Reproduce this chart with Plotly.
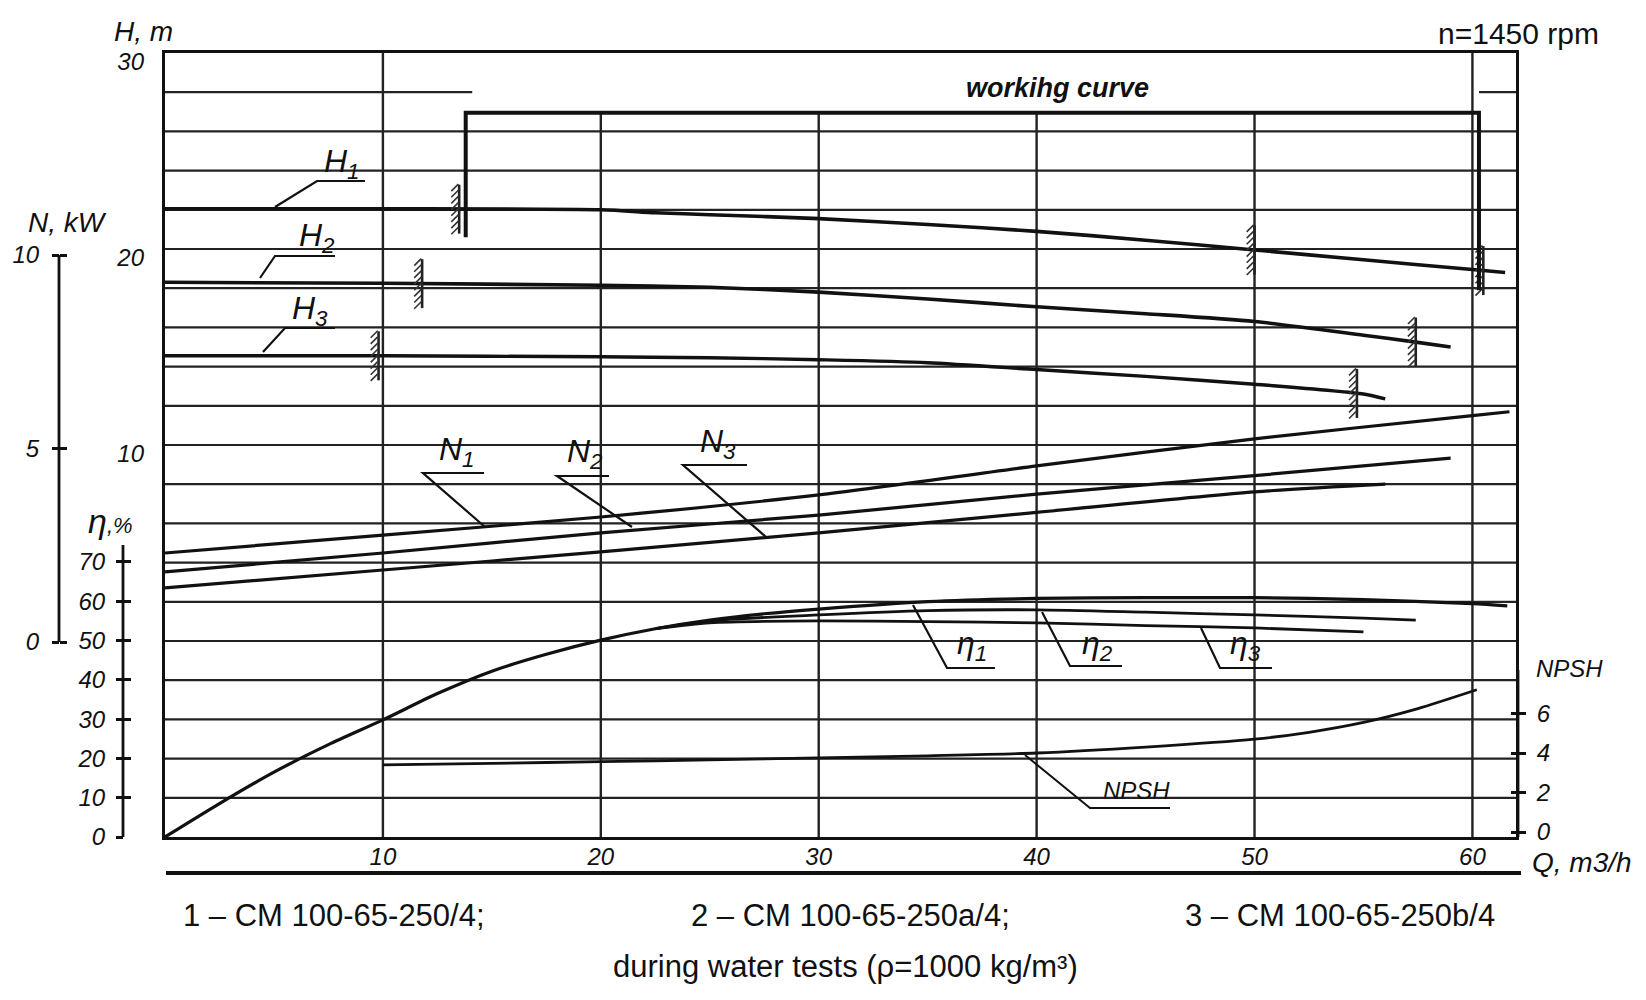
import numpy as np
import plotly.graph_objects as go

W, H = 1646, 1000

# head H(Q), m
q_h1 = [0, 10, 20, 22.5, 25, 30, 35, 40, 45, 50, 55, 60, 61.5]
h1 = [22.05, 22.05, 22.0, 21.85, 21.75, 21.55, 21.25, 20.9, 20.45, 19.95, 19.45, 18.95, 18.8]
q_h2 = [0, 10, 20, 25, 30, 35, 40, 45, 50, 55, 57.4, 59]
h2 = [18.3, 18.25, 18.15, 18.05, 17.8, 17.45, 17.05, 16.7, 16.3, 15.6, 15.25, 15.0]
q_h3 = [0, 10, 20, 25, 30, 35, 40, 45, 50, 55, 56]
h3 = [14.55, 14.55, 14.5, 14.45, 14.35, 14.2, 13.85, 13.5, 13.1, 12.6, 12.35]

# power N(Q), kW
q_n1 = [0, 10, 20, 30, 40, 50, 60, 61.7]
n1 = [2.3, 2.76, 3.23, 3.8, 4.55, 5.25, 5.85, 5.95]
q_n2 = [0, 10, 20, 30, 40, 50, 59]
n2 = [1.81, 2.3, 2.82, 3.28, 3.82, 4.3, 4.75]
q_n3 = [0, 10, 20, 30, 40, 50, 56]
n3 = [1.4, 1.86, 2.33, 2.82, 3.35, 3.88, 4.08]

# efficiency eta(Q), %
q_e1 = [0, 2.5, 5, 7.5, 10, 12.5, 15, 17.5, 20, 22.5, 25, 27.5, 30, 35, 40, 45, 50, 55, 60, 61.6]
e1 = [0, 8.5, 16.5, 23.5, 29.8, 36.5, 42.2, 46.5, 50.1, 53, 55.2, 56.8, 58, 59.9, 60.7, 60.9, 60.9, 60.4, 59.4, 58.8]
q_e2 = [22.5, 25, 30, 35, 40, 45, 50, 55, 57.4]
e2 = [53, 55, 56.5, 57.6, 57.8, 57.2, 56.5, 55.7, 55.2]
q_e3 = [22.5, 25, 30, 35, 40, 45, 50, 55]
e3 = [53, 54.5, 55, 54.8, 54.5, 53.8, 53.2, 52.2]

# NPSH(Q), m
q_npsh = [10, 15, 20, 25, 30, 35, 40, 45, 50, 52.5, 55, 57.5, 60.2]
npsh = [3.4, 3.48, 3.56, 3.65, 3.75, 3.86, 4.0, 4.3, 4.7, 5.05, 5.55, 6.25, 7.2]

# working range limits (hatched marks on the head curves)
limits_h1 = [13.5, 50.0, 60.5]
limits_h2 = [11.8, 57.4]
limits_h3 = [9.8, 54.7]

q_ticks = [10, 20, 30, 40, 50, 60]
h_ticks = [10, 20, 30]
n_ticks = [0, 5, 10]
eta_ticks = [0, 10, 20, 30, 40, 50, 60, 70]
npsh_ticks = [0, 2, 4, 6]

pumps = ['1 – CM 100-65-250/4;', '2 – CM 100-65-250a/4;', '3 – CM 100-65-250b/4']

INK = '#111111'
FONT = 'Liberation Sans, Arial, sans-serif'

# pixel geometry of the drawing (page has an 8px body margin)
OFF = 8
X0, X1 = 165, 1516          # Q = 0 .. 62
Y0, Y1 = 837, 53            # grid units 0 .. 20
N_AX, ETA_AX, NPSH_AX = 59, 123, 1518


def px(x, y):
    return (x - OFF) / W, 1 - (y - OFF) / H


def span(v0, y_v0, px_per_unit):
    # axis range that puts value v0 at pixel row y_v0 with the given scale
    return [v0 - (Y0 - y_v0) / px_per_unit, v0 + (y_v0 - Y1) / px_per_unit]


n_range = span(0, 642, 38.7)
eta_range = span(0, 837, 3.93)
npsh_range = span(-0.25, 837, 19.76)

fig = go.Figure()


def curve(q, v, axis, width=3.2):
    fig.add_trace(go.Scatter(x=q, y=v, yaxis=axis, mode='lines',
                             line=dict(color=INK, width=width, shape='spline', smoothing=0.7),
                             hoverinfo='skip', showlegend=False))


curve(q_h1, h1, 'y2', 3.6)
curve(q_h2, h2, 'y2', 3.6)
curve(q_h3, h3, 'y2', 3.4)
curve(q_n1, n1, 'y3')
curve(q_n2, n2, 'y3')
curve(q_n3, n3, 'y3')
curve(q_e1, e1, 'y5')
curve(q_e2, e2, 'y5', 2.8)
curve(q_e3, e3, 'y5', 2.8)
curve(q_npsh, npsh, 'y7', 2.8)

# hatched limit marks: a short bar with small slanted strokes
hx, hy, mx, my = [], [], [], []
for qs, hs, lim in [(q_h1, h1, limits_h1), (q_h2, h2, limits_h2), (q_h3, h3, limits_h3)]:
    for q in lim:
        hv = float(np.interp(q, qs, hs))
        hx += [q, q, None]
        hy += [hv - 1.25, hv + 1.25, None]
        for t in np.linspace(hv - 1.1, hv + 1.1, 8):
            mx.append(q - 0.2)
            my.append(t)
fig.add_trace(go.Scatter(x=hx, y=hy, yaxis='y2', mode='lines',
                         line=dict(color='#222', width=2.6), hoverinfo='skip', showlegend=False))
fig.add_trace(go.Scatter(x=mx, y=my, yaxis='y2', mode='markers',
                         marker=dict(symbol='line-ne', size=7, line=dict(color='#333', width=1.6)),
                         hoverinfo='skip', showlegend=False))

# working curve bracket
wq0, wq1 = limits_h1[0] + 0.3, limits_h1[-1] - 0.2
fig.add_trace(go.Scatter(x=[wq0, wq0, wq1, wq1], y=[20.6, 26.95, 26.95, 17.9], yaxis='y2',
                         mode='lines', line=dict(color=INK, width=4),
                         hoverinfo='skip', showlegend=False))

# invisible traces so every axis is drawn
for ax, v in [('y', 5), ('y4', 5), ('y6', 30), ('y8', 2)]:
    fig.add_trace(go.Scatter(x=[30], y=[v], yaxis=ax, mode='markers',
                             marker=dict(opacity=0), hoverinfo='skip', showlegend=False))

shapes = []
# horizontal grid every 2 m of head
for u in range(1, 20):
    segs = [(0, 62)] if u < 19 else [(0, 14.1), (60.3, 62)]
    for a, b in segs:
        shapes.append(dict(type='line', xref='x', yref='y', x0=a, x1=b, y0=u, y1=u,
                           line=dict(color='#222', width=2.2), layer='below'))
# vertical grid
for q in q_ticks:
    top = 20 if q in (10, 60) else 18.47
    shapes.append(dict(type='line', xref='x', yref='y', x0=q, x1=q, y0=0, y1=top,
                       line=dict(color='#222', width=2.4), layer='below'))

# short scale axes (lines only over the labelled span)
for pos, ref, lo, hi in [(N_AX, 'y3', 0, 10), (ETA_AX, 'y5', 0, 74.3), (NPSH_AX, 'y7', -0.25, 8.2)]:
    xp = px(pos, 0)[0]
    shapes.append(dict(type='line', xref='paper', yref=ref, x0=xp, x1=xp, y0=lo, y1=hi,
                       line=dict(color=INK, width=2.8)))

# labels with leader lines: text, text centre, curve point, underline start, underline end
labels = [
    ('H<sub>1</sub>', (342, 163), (275, 207), (317, 181), 365),
    ('H<sub>2</sub>', (317, 238), (260, 278), (275, 256), 335),
    ('H<sub>3</sub>', (310, 311), (263, 352), (285, 328), 335),
    ('N<sub>1</sub>', (457, 452), (485, 527), (423, 473), 484),
    ('N<sub>2</sub>', (585, 454), (632, 527), (557, 476), 609),
    ('N<sub>3</sub>', (718, 444), (766, 537), (683, 465), 747),
    ('η<sub>1</sub>', (972, 645), (913, 605), (947, 668), 995),
    ('η<sub>2</sub>', (1097, 645), (1042, 612), (1070, 666), 1122),
    ('η<sub>3</sub>', (1245, 645), (1201, 628), (1220, 668), 1272),
]
annotations = []
for txt, (tx, ty), p0, p1, xe in labels:
    x0, y0 = px(*p0)
    x1, y1 = px(*p1)
    x2, _ = px(xe, p1[1])
    shapes.append(dict(type='rect', xref='paper', yref='paper',
                       x0=px(tx - 26, 0)[0], x1=px(tx + 26, 0)[0],
                       y0=px(0, ty + 14)[1], y1=px(0, ty - 16)[1],
                       fillcolor='white', line=dict(width=0), layer='below'))
    shapes.append(dict(type='path', xref='paper', yref='paper',
                       path=f'M {x0},{y0} L {x1},{y1} L {x2},{y1}',
                       line=dict(color=INK, width=2.2)))
    ax_, ay_ = px(tx, ty)
    annotations.append(dict(text=txt, x=ax_, y=ay_, xref='paper', yref='paper', showarrow=False,
                            xanchor='center', yanchor='middle',
                            font=dict(family=FONT, size=32, color=INK, style='italic')))

# NPSH leader
shapes.append(dict(type='rect', xref='paper', yref='paper',
                   x0=px(1098, 0)[0], x1=px(1176, 0)[0], y0=px(0, 804)[1], y1=px(0, 780)[1],
                   fillcolor='white', line=dict(width=0), layer='below'))
a0, b0 = px(1025, 755)
a1, b1 = px(1090, 808)
a2, _ = px(1170, 808)
shapes.append(dict(type='path', xref='paper', yref='paper',
                   path=f'M {a0},{b0} L {a1},{b1} L {a2},{b1}', line=dict(color=INK, width=2)))

# thick rule under the Q axis
r0, rr = px(166, 873)
r1, _ = px(1521, 873)
shapes.append(dict(type='line', xref='paper', yref='paper', x0=r0, x1=r1, y0=rr, y1=rr,
                   line=dict(color=INK, width=4)))


def note(text, x, y, size, style='normal', weight='normal', anchor='center'):
    ax_, ay_ = px(x, y)
    annotations.append(dict(text=text, x=ax_, y=ay_, xref='paper', yref='paper', showarrow=False,
                            xanchor=anchor, yanchor='middle',
                            font=dict(family=FONT, size=size, color=INK, style=style, weight=weight)))


note('NPSH', 1136, 790, 24, 'italic')
note('H, m', 143, 31, 28, 'italic')
note('N, kW', 68, 223, 28, 'italic')
note('η<span style="font-size:22px">,%</span>', 110, 521, 34, 'italic')
note('NPSH', 1569, 668, 24, 'italic')
note('Q, m3/h', 1582, 862, 28, 'italic')
note('n=1450 rpm', 1518, 33, 30)
note('workihg curve', 1057, 88, 27, 'italic', 'bold')
note(pumps[0], 334, 915, 31)
note(pumps[1], 850, 915, 31)
note(pumps[2], 1340, 915, 31)
note('during water tests (ρ=1000 kg/m³)', 845, 966, 31)

tickfont = dict(family=FONT, size=24, color=INK, style='italic')
x_dom = [px(X0, 0)[0], px(X1, 0)[0]]
main_dom = [px(0, Y0)[1], px(0, Y1)[1]]

tick_axis = dict(overlaying='y', anchor='free', showline=False, showgrid=False, zeroline=False,
                 ticklen=7, tickwidth=2.5, tickcolor=INK, automargin=False)

fig.update_layout(
    width=W, height=H,
    margin=dict(l=0, r=0, t=0, b=0, autoexpand=False),
    paper_bgcolor='white', plot_bgcolor='white',
    showlegend=False,
    shapes=shapes, annotations=annotations,
    xaxis=dict(domain=x_dom, range=[0, 62], showline=True, mirror=True, linecolor=INK, linewidth=3,
               showgrid=False, zeroline=False, ticks='', tickvals=q_ticks, tickfont=tickfont,
               ticklabelstandoff=-4, automargin=False),
    yaxis=dict(domain=main_dom, range=[0, 20], showline=True, mirror=True, linecolor=INK, linewidth=3,
               showgrid=False, zeroline=False, ticks='', showticklabels=False, automargin=False),
    yaxis2=dict(overlaying='y', anchor='x', side='left', range=[-10, 30], tickvals=h_ticks,
                tickfont=tickfont, showgrid=False, zeroline=False, showline=False, ticks='',
                ticklabelstandoff=20, ticklabelshift=9, automargin=False),
    yaxis3=dict(tick_axis, position=px(N_AX, 0)[0], side='left', range=n_range, ticks='outside',
                tickvals=n_ticks, tickfont=tickfont, ticklabelstandoff=8),
    yaxis4=dict(tick_axis, position=px(N_AX, 0)[0], side='left', range=n_range, ticks='inside',
                tickvals=n_ticks, showticklabels=False),
    yaxis5=dict(tick_axis, position=px(ETA_AX, 0)[0], side='left', range=eta_range, ticks='outside',
                tickvals=eta_ticks, tickfont=tickfont, ticklabelstandoff=6),
    yaxis6=dict(tick_axis, position=px(ETA_AX, 0)[0], side='left', range=eta_range, ticks='inside',
                tickvals=eta_ticks, showticklabels=False),
    yaxis7=dict(tick_axis, position=px(NPSH_AX, 0)[0], side='right', range=npsh_range, ticks='outside',
                tickvals=npsh_ticks, tickfont=tickfont, ticklabelstandoff=6),
    yaxis8=dict(tick_axis, position=px(NPSH_AX, 0)[0], side='right', range=npsh_range, ticks='inside',
                tickvals=npsh_ticks, showticklabels=False),
)

fig.write_html("out.html")
